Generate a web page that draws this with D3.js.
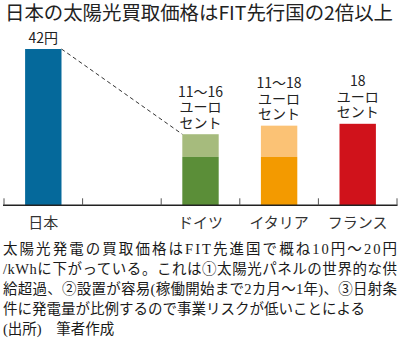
<!DOCTYPE html>
<html><head><meta charset="utf-8">
<script src="https://cdn.jsdelivr.net/npm/d3@7"></script>
<style>body{margin:0;background:#fff}svg{display:block}</style>
</head><body>
<svg id="c" width="400" height="342"></svg>
<script>
// ---- data ----
const title = "日本の太陽光買取価格はFIT先行国の2倍以上";
const categories = ["日本", "", "ドイツ", "イタリア", "フランス"];
// values expressed in yen equivalent (height of bars)
const baseValues = [42, null, 13.0, 13.0, 21.9];
const topValues  = [null, null, 19.1, 21.4, null];
const valueLabels = [["42円"], [], ["11〜16", "ユーロ", "セント"], ["11〜18", "ユーロ", "セント"], ["18", "ユーロ", "セント"]];
const captionLines = [
  "太陽光発電の買取価格はFIT先進国で概ね10円～20円",
  "/kWhに下がっている。これは①太陽光パネルの世界的な供",
  "給超過、②設置が容易(稼働開始まで2カ月～1年)、③日射条",
  "件に発電量が比例するので事業リスクが低いことによる",
  "(出所)　筆者作成"
];
const justified = [true, true, true, false, false];

// ---- palette ----
const baseColor = d3.scaleOrdinal().domain(categories).range(["#05699b", "#ffffff", "#5b8e38", "#f39a00", "#d0121b"]);
const topColor  = d3.scaleOrdinal().domain(categories).range(["#05699b", "#ffffff", "#a6bb7d", "#fbc275", "#d0121b"]);

const svg = d3.select("#c");
const sans = "'Noto Sans CJK JP', 'Noto Sans', sans-serif";
const serif = "'Liberation Serif', 'Noto Sans CJK JP', serif";

svg.append("text").attr("x", 5).attr("y", 20)
  .attr("font-family", sans).attr("font-size", 19).attr("fill", "#222")
  .attr("textLength", 388).attr("lengthAdjust", "spacingAndGlyphs")
  .text(title);

const x = d3.scaleBand().domain(categories).range([4, 397]).paddingInner(0.537).paddingOuter(0.2685);
const y = d3.scaleLinear().domain([0, 42]).range([205.3, 49]);
const step = x.step();
const x0 = 4;

const g = svg.append("g");

categories.forEach((c, i) => {
  const v = baseValues[i];
  if (v == null) return;
  const t = topValues[i];
  if (t != null) {
    g.append("rect").attr("x", x(c)).attr("width", x.bandwidth())
      .attr("y", y(t)).attr("height", y(v) - y(t)).attr("fill", topColor(c));
  }
  g.append("rect").attr("x", x(c)).attr("width", x.bandwidth())
    .attr("y", y(v)).attr("height", y(0) - y(v)).attr("fill", baseColor(c));
});

// dashed connector from Japan top-right to Germany top-left
g.append("line")
  .attr("x1", x(categories[0]) + x.bandwidth()).attr("y1", y(baseValues[0]))
  .attr("x2", x(categories[2])).attr("y2", y(topValues[2]))
  .attr("stroke", "#333").attr("stroke-width", 1).attr("stroke-dasharray", "4,3");

// value labels (one text element per bar, lines as tspans)
categories.forEach((c, i) => {
  const lines = valueLabels[i];
  if (!lines.length) return;
  const topV = topValues[i] != null ? topValues[i] : baseValues[i];
  const yb = y(topV) - 6.5;
  const n = lines.length;
  const cx = x(c) + x.bandwidth() / 2;
  const t = g.append("text").attr("text-anchor", "middle").attr("font-family", sans)
    .attr("font-size", 14).attr("fill", "#222");
  lines.forEach((s, k) => {
    t.append("tspan").attr("x", cx).attr("y", yb - (n - 1 - k) * 15.5).text(s);
  });
});

// axis
const axis = d3.axisBottom(x).tickSize(0).tickPadding(8);
const ax = svg.append("g").attr("transform", `translate(0,${y(0)})`).call(axis);
ax.select(".domain").remove();
ax.selectAll("text").attr("font-family", sans).attr("font-size", 15).attr("fill", "#333").attr("dy", "0.95em");
svg.append("line").attr("x1", 3).attr("x2", 397.5).attr("y1", y(0)).attr("y2", y(0))
  .attr("stroke", "#222").attr("stroke-width", 1.5);
d3.range(categories.length + 1).forEach(i => {
  const xx = x0 + i * step;
  svg.append("line").attr("x1", xx).attr("x2", xx).attr("y1", y(0)).attr("y2", y(0) - 7)
    .attr("stroke", "#555").attr("stroke-width", 1);
});

// caption
captionLines.forEach((s, i) => {
  const t = svg.append("text").attr("x", 3).attr("y", 253.5 + i * 20)
    .attr("font-family", serif).attr("font-size", 14.5).attr("fill", "#1a1a1a").text(s);
  if (justified[i]) t.attr("textLength", 394).attr("lengthAdjust", "spacing");
});
</script>
</body></html>
